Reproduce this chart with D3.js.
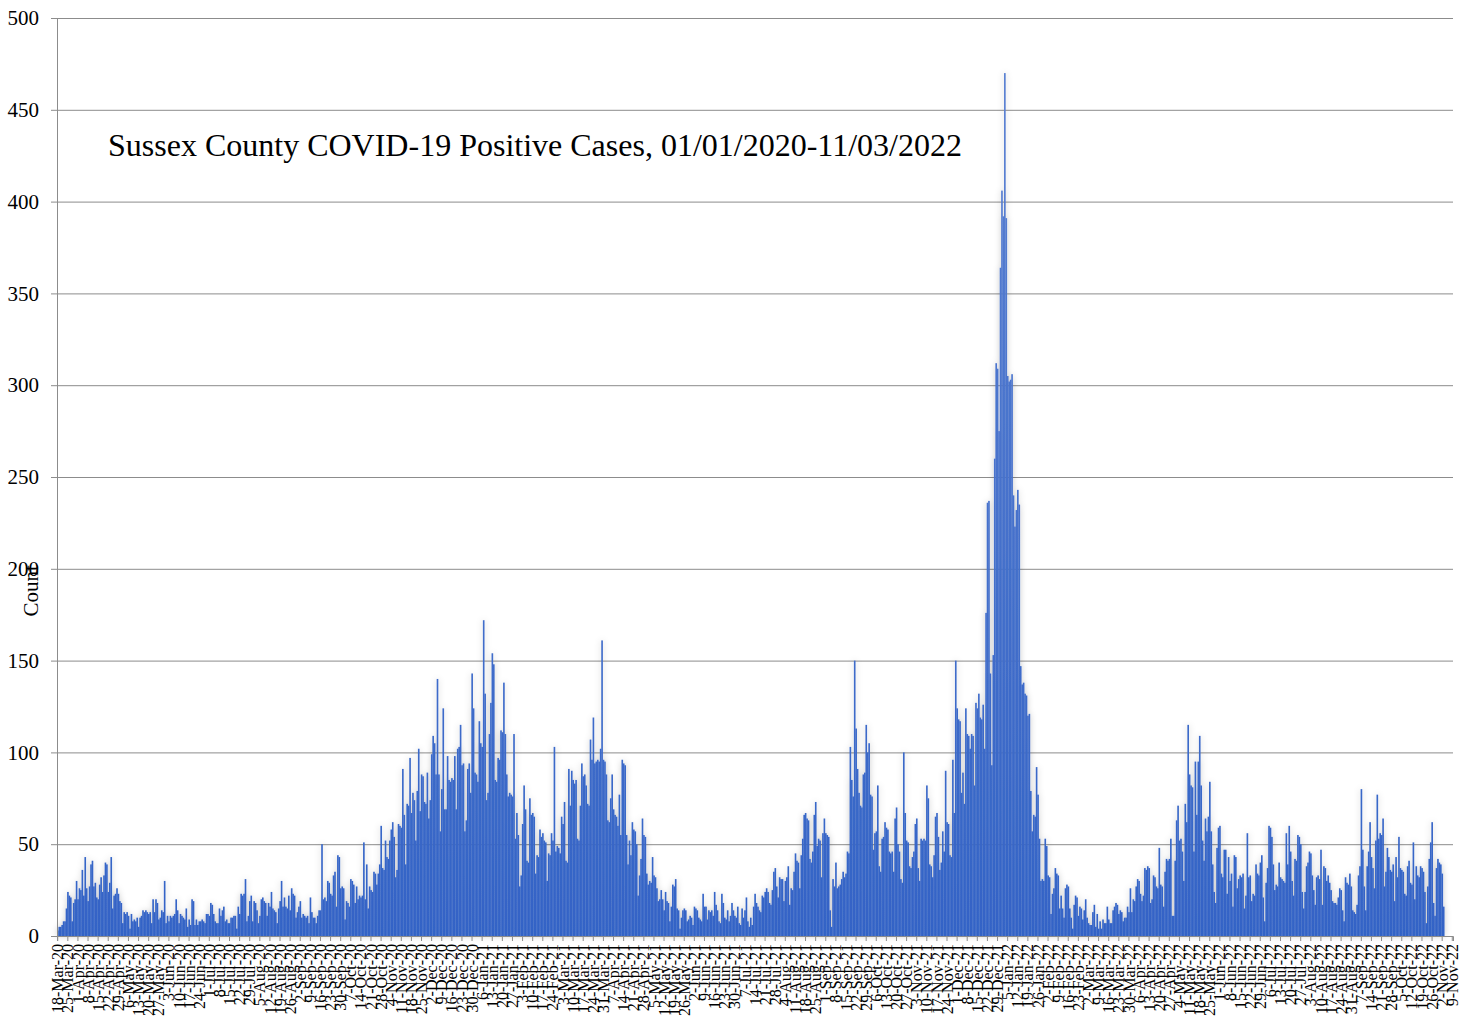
<!DOCTYPE html>
<html>
<head>
<meta charset="utf-8">
<script src="https://cdn.jsdelivr.net/npm/d3@7"></script>
<style>
  body { margin: 0; background: #fff; }
  svg { display: block; font-family: "Liberation Serif", "Times New Roman", serif; }
</style>
</head>
<body>
<div class="chart"></div>
<script>

// daily positive cases, one value per day starting 18-Mar-2020
var cases2020 = [
  3,5,5,6,8,8,15,24,22,21, 8,18,20,30,20,26,25,36,22,43,
  26,19,27,39,41,27,29,21,20,28, 32,24,33,40,39,24,29,43,15,22,
  23,26,23,19,18,7,13,12,13,11, 4,12,8,9,8,10,5,10,11,14,
  13,14,13,12,13,7,20,13,20,18, 9,10,14,13,30,7,11,8,11,10,
  11,12,20,14,7,12,11,10,9,15, 5,9,6,20,19,6,9,6,8,8,
  9,8,7,12,12,11,18,17,12,8, 7,7,15,11,14,16,8,9,7,7,
  10,10,11,11,4,16,12,23,22,23, 31,8,11,19,22,8,19,18,14,7,
  11,20,21,19,18,11,18,16,24,15, 14,13,7,15,19,30,16,21,16,15,
  22,14,26,23,22,10,13,16,19,10, 12,11,10,11,7,21,13,10,10,7,
  11,14,14,50,20,21,19,30,29,23, 22,33,35,16,44,43,26,27,26,9,
  19,18,16,31,30,28,18,27,20,22, 21,22,51,20,39,15,27,25,24,35,
  34,28,34,39,60,37,36,52,43,42, 52,58,62,54,32,36,61,60,59,91,
  66,39,72,71,97,67,78,74,52,79, 102,68,88,87,73,72,89,64,74,99,
  109,105,88,140,88,57,80,124,69,69, 98,85,84,86,85,98,69,102,103,115,
  93,94,57,63,91,94,78,143,124
];

var cases2021 = [
  89,88,84,117,105,103,172,132,74,78, 110,127,154,148,85,84,97,96,112,111,
  138,110,88,76,78,77,76,110,53,67, 55,27,33,61,82,69,41,40,75,66,
  67,65,34,44,43,58,54,56,52,51, 30,45,44,56,52,103,46,49,48,45,
  65,61,73,41,40,91,71,90,85,83, 85,53,52,71,94,87,88,82,72,71,
  107,96,119,94,95,96,95,102,161,96, 95,88,63,62,75,88,69,66,65,60,
  77,55,96,94,93,55,39,52,44,62, 58,57,50,22,33,42,64,55,54,34,
  28,30,29,43,33,32,26,19,20,25, 20,14,24,19,18,8,16,28,27,31,
  15,14,4,10,14,15,14,8,9,11, 10,6,16,15,14,10,9,8,23,16,
  16,9,14,13,14,11,24,17,14,8, 7,23,18,10,9,14,8,11,18,14,
  11,10,16,7,6,15,10,14,21,8, 5,10,6,16,23,18,16,14,13,22,
  21,24,26,24,18,17,25,35,37,27, 21,32,31,31,19,30,32,38,17,26,
  25,35,45,41,40,26,44,53,66,67, 64,63,42,40,46,66,73,49,53,52,
  32,56,64,56,55,54,14,5,31,27, 40,26,27,28,31,35,32,34,46,45,
  103,85,76,150,113,91,78,71,70,88, 89,115,100,105,77,76,47,56,57,82,
  38,35,53,54,62,59,58,46,45,46, 35,64,70,50,46,31,29,100,67,52,
  51,38,37,43,46,61,64,37,30,53, 52,53,52,82,75,39,38,32,44,65,
  67,54,36,40,57,46,90,62,61,44, 43,96,67,150,124,118,117,78,89,72,
  124,110,109,102,110,109,82,127,124,132, 119,118,126,102,176,236,237,143,93,153,
  260,312,309,275,364
];

var cases2022 = [
  406,392,470,391,305,302,303,306,240,223, 232,243,235,147,137,138,132,131,120,121,
  79,57,66,65,92,77,53,30,31,30, 53,49,33,32,12,23,26,37,34,33,
  15,22,15,10,26,28,27,15,10,4, 17,22,21,11,16,15,9,14,20,10,
  7,6,6,13,17,5,12,4,8,4, 9,7,7,16,9,7,7,14,16,18,
  17,12,14,13,8,10,10,16,13,26, 13,20,19,27,31,30,23,19,22,37,
  36,38,37,18,20,33,32,27,26,48, 28,27,16,35,42,41,42,53,11,11,
  41,63,71,52,53,46,30,72,62,115, 88,82,81,46,95,66,95,109,82,52,
  41,64,57,65,84,57,39,24,18,48, 59,60,34,32,47,47,23,43,30,34,
  16,44,43,26,31,33,32,34,15,22, 56,32,33,19,23,22,39,34,33,40,
  44,21,8,29,37,60,59,54,39,25, 28,27,40,32,31,30,29,56,39,60,
  46,30,22,42,41,55,54,50,24,15, 24,38,40,46,45,33,25,17,32,33,
  31,47,17,38,37,30,33,29,25,19, 18,18,17,21,26,25,14,8,32,29,
  28,34,27,14,13,12,17,33,38,80, 47,27,14,38,46,62,43,37,26,52,
  77,53,56,55,64,27,35,48,43,36, 35,39,19,43,32,54,37,36,35,23,
  22,38,41,29,28,51,20,38,33,32, 38,37,35,24,7,27,42,51,62,18,
  11,37,42,40,39,34,16
];

// category axis runs one day per category, labelled every 7th day
var firstDay = "2020-03-18";
var lastDay = "2022-11-09";
var labelEvery = 7;
var yTicks = [0, 50, 100, 150, 200, 250, 300, 350, 400, 450, 500];
var titleText = "Sussex County COVID-19 Positive Cases, 01/01/2020-11/03/2022";
var yLabel = "Count";

var width = 1468;
var height = 1018;
var margin = {top: 18, right: 15, bottom: 82, left: 57};
var plotW = width - margin.left - margin.right;
var plotH = height - margin.top - margin.bottom;

var parseDay = d3.timeParse("%Y-%m-%d");
var fmtDay = d3.timeFormat("%-d-%b-%y");
var days = d3.timeDay.range(parseDay(firstDay), d3.timeDay.offset(parseDay(lastDay), 1));

var cases = cases2020.concat(cases2021, cases2022);
var data = cases.map(function (v, i) { return {i: i, value: v}; });

var svg = d3.select(".chart").append("svg")
  .attr("width", width)
  .attr("height", height);

var defs = svg.append("defs");

var grad = defs.append("linearGradient")
  .attr("id", "barFill")
  .attr("gradientUnits", "userSpaceOnUse")
  .attr("x1", 0).attr("x2", 0)
  .attr("y1", 0).attr("y2", plotH);
grad.append("stop").attr("offset", "0%").attr("stop-color", "#5b81d2");
grad.append("stop").attr("offset", "100%").attr("stop-color", "#3363c6");

var glow = defs.append("filter")
  .attr("id", "glow")
  .attr("x", "-5%").attr("y", "-5%")
  .attr("width", "110%").attr("height", "110%");
glow.append("feGaussianBlur").attr("in", "SourceAlpha").attr("stdDeviation", 3).attr("result", "blur");
glow.append("feFlood").attr("flood-color", "#000").attr("flood-opacity", 0.22);
glow.append("feComposite").attr("in2", "blur").attr("operator", "in").attr("result", "shadow");
var merge = glow.append("feMerge");
merge.append("feMergeNode").attr("in", "shadow");
merge.append("feMergeNode").attr("in", "SourceGraphic");

var g = svg.append("g")
  .attr("transform", "translate(" + margin.left + "," + margin.top + ")");

var x = d3.scaleBand()
  .domain(d3.range(days.length))
  .range([0, plotW])
  .padding(0);

var y = d3.scaleLinear()
  .domain([0, 500])
  .range([plotH, 0]);

// gridlines
var grid = g.append("g")
  .attr("class", "grid")
  .call(d3.axisLeft(y).tickValues(yTicks.slice(1)).tickSize(-plotW).tickFormat(""));
grid.select(".domain").remove();
grid.selectAll("line").attr("stroke", "#8c8c8c").attr("stroke-width", 1);

// bars
g.append("g")
  .attr("filter", "url(#glow)")
  .selectAll("rect")
  .data(data)
  .enter().append("rect")
  .attr("x", function (d) { return x(d.i); })
  .attr("width", x.bandwidth() + 0.2)
  .attr("y", function (d) { return y(d.value); })
  .attr("height", function (d) { return plotH - y(d.value); })
  .attr("fill", "url(#barFill)");

// y axis
var yAxisGroup = g.append("g")
  .call(d3.axisLeft(y).tickValues(yTicks).tickSize(6).tickPadding(12));
yAxisGroup.select(".domain").attr("stroke", "#8c8c8c");
yAxisGroup.selectAll("line").attr("stroke", "#8c8c8c");
yAxisGroup.selectAll("text")
  .attr("font-family", "'Liberation Serif', 'Times New Roman', serif")
  .attr("font-size", "21px")
  .attr("fill", "#000");

// x axis
var labelIdx = d3.range(0, days.length, labelEvery);
var xAxisGroup = g.append("g")
  .attr("transform", "translate(0," + plotH + ")")
  .call(d3.axisBottom(x)
    .tickValues(labelIdx)
    .tickSize(5)
    .tickFormat(function (i) { return fmtDay(days[i]); }));
xAxisGroup.select(".domain").attr("stroke", "#8c8c8c");
xAxisGroup.selectAll("line").attr("stroke", "#8c8c8c");
xAxisGroup.selectAll("text")
  .attr("font-family", "'Liberation Serif', 'Times New Roman', serif")
  .attr("font-size", "16px")
  .attr("fill", "#000")
  .attr("text-anchor", "end")
  .attr("transform", "rotate(-90)")
  .attr("x", -8)
  .attr("y", 0)
  .attr("dy", "0.35em");

// title and axis label
svg.append("text")
  .attr("x", 108)
  .attr("y", 156)
  .attr("font-size", "32px")
  .attr("fill", "#000")
  .text(titleText);

svg.append("text")
  .attr("transform", "translate(38," + (margin.top + y(200) + 22) + ") rotate(-90)")
  .attr("text-anchor", "middle")
  .attr("font-size", "21px")
  .attr("fill", "#000")
  .text(yLabel);

</script>
</body>
</html>
